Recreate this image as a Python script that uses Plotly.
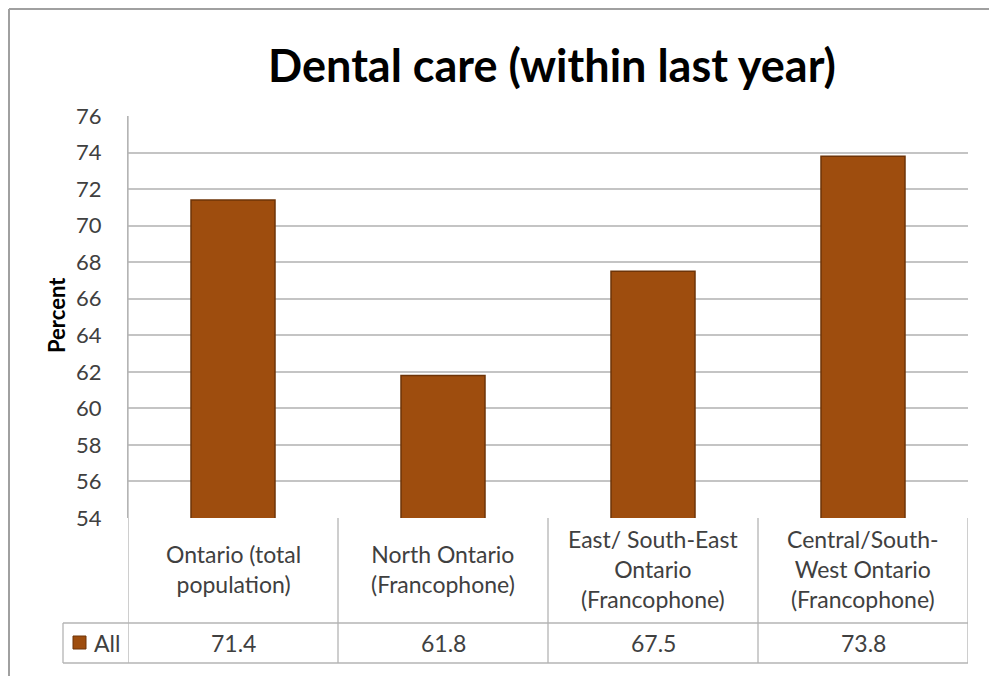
import plotly.graph_objects as go

categories = ["Ontario (total<br>population)", "North Ontario<br>(Francophone)",
              "East/ South-East<br>Ontario<br>(Francophone)", "Central/South-<br>West Ontario<br>(Francophone)"]
values = [71.4, 61.8, 67.5, 73.8]
series_name = "All"
y_ticks = list(range(54, 77, 2))

FONT = "Lato"
BAR = "#9E4D0E"
EDGE = "#6E3408"
GRID = "#C4C4C4"
TBL = "#B4B4B4"
TXT = "#404040"

xs = list(range(len(values)))

# page body has an 8px margin; figure sits at (8, 8)
OFF = 8
FW, FH = 997 - OFF, 676 - OFF
L, R, T, B = 128, 968, 116, 518   # plot area in screen px
W, H = R - L, B - T

def py(Y):
    return (B - Y) / H
def px(X):
    return (X - L) / W

fig = go.Figure()
fig.add_trace(go.Bar(
    x=xs, y=values, width=0.4, name=series_name,
    marker=dict(color=BAR, line=dict(color=EDGE, width=1.5)),
    showlegend=False, hoverinfo="y"
))

shapes = []
line = dict(color=TBL, width=1.3)
for Y in (623, 663):
    shapes.append(dict(type="line", xref="paper", yref="paper", x0=px(63), x1=1, y0=py(Y), y1=py(Y), line=line))
for i in range(len(values) + 1):
    xb = i - 0.5
    y_top = py(518) if i > 0 else 1
    shapes.append(dict(type="line", xref="x", yref="paper", x0=xb, x1=xb, y0=y_top, y1=py(663), line=line))
shapes.append(dict(type="line", xref="paper", yref="paper", x0=px(63), x1=px(63), y0=py(623), y1=py(663), line=line))
# screenshot frame
frame = dict(color="#A0A0A0", width=2)
shapes.append(dict(type="line", xref="paper", yref="paper", x0=px(OFF + 1), x1=px(OFF + 1), y0=py(OFF + 1), y1=py(676), line=frame))
shapes.append(dict(type="line", xref="paper", yref="paper", x0=px(OFF + 1), x1=px(995), y0=py(OFF + 1), y1=py(OFF + 1), line=frame))
shapes.append(dict(type="line", xref="paper", yref="paper", x0=px(995), x1=px(995), y0=py(OFF + 1), y1=py(676), line=dict(color="#D0D0D0", width=2)))
# legend key
shapes.append(dict(type="rect", xref="paper", yref="paper", x0=px(73), x1=px(86), y0=py(636), y1=py(649),
                   fillcolor=BAR, line=dict(color=EDGE, width=1)))

annotations = []
for i, c in enumerate(categories):
    annotations.append(dict(x=i, y=py(569), xref="x", yref="paper", text=c, showarrow=False,
                            xanchor="center", yanchor="middle",
                            font=dict(family=FONT, size=23, color=TXT), align="center"))
    annotations.append(dict(x=i, y=py(643), xref="x", yref="paper", text=f"{values[i]:.1f}", showarrow=False,
                            xanchor="center", yanchor="middle",
                            font=dict(family=FONT, size=23, color=TXT)))
annotations.append(dict(x=px(92), y=py(643), xref="paper", yref="paper", text=series_name, showarrow=False,
                        xanchor="left", yanchor="middle", font=dict(family=FONT, size=23, color=TXT)))
# y axis title
annotations.append(dict(x=px(56), y=py(315), xref="paper", yref="paper", text="<b>Percent</b>", showarrow=False,
                        textangle=-90, xanchor="center", yanchor="middle",
                        font=dict(family=FONT, size=22, color="black")))

fig.update_layout(
    width=FW, height=FH,
    margin=dict(l=L - OFF, r=997 - R, t=T - OFF, b=676 - B, pad=0),
    paper_bgcolor="white", plot_bgcolor="white",
    title=dict(text="<b>Dental care (within last year)</b>", x=px(552), xref="paper", xanchor="center",
               y=1 - (66 - OFF) / FH, yanchor="middle", font=dict(family=FONT, size=45, color="black")),
    xaxis=dict(range=[-0.5, len(values) - 0.5], showticklabels=False, showgrid=False, zeroline=False,
               showline=False, ticks=""),
    yaxis=dict(range=[54, 76], tickvals=y_ticks, showgrid=True, gridcolor=GRID, gridwidth=1.5,
               showline=True, linecolor=TBL, linewidth=1.3, zeroline=False, ticks="",
               tickfont=dict(family=FONT, size=22, color=TXT), ticklabelstandoff=21),
    shapes=shapes, annotations=annotations,
)

fig.write_html("out.html")
